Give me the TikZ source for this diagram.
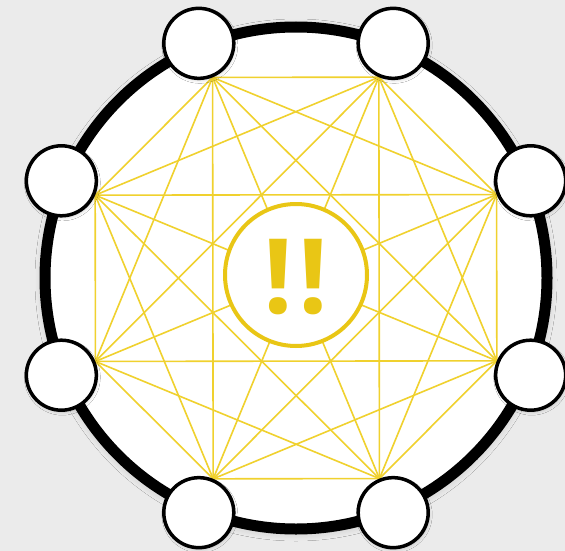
\documentclass[tikz,border=0pt]{standalone}
\usepackage{fontspec}
\usepackage{xcolor}
\usepackage{tikz}
\usetikzlibrary{shadows.blur}
\newfontfamily\bangfont{Open Sans}
\definecolor{bggray}{HTML}{EBEBEB}
\definecolor{warnyellow}{HTML}{E9C615}
\definecolor{edgeyellow}{HTML}{F0D12E}

\begin{document}
\begin{tikzpicture}[
    x=1pt, y=-1pt,
    ring/.style    = {circle, draw=black, line width=11pt, fill=white,
                      minimum size=502pt, inner sep=0pt,
                      blur shadow={shadow xshift=0pt, shadow yshift=-2pt,
                                   shadow blur steps=12,
                                   shadow blur radius=10pt, shadow opacity=22}},
    slot/.style    = {circle, minimum size=70pt, inner sep=0pt, outer sep=1.75pt},
    vertex/.style  = {circle, draw=black, line width=3.5pt, fill=white,
                      minimum size=70pt, inner sep=0pt,
                      blur shadow={shadow xshift=1pt, shadow yshift=-2pt,
                                   shadow blur radius=3pt, shadow opacity=18}},
    alert/.style   = {circle, draw=warnyellow, line width=4pt, fill=white,
                      minimum size=142pt, inner sep=0pt},
    bang/.style    = {font=\bangfont\bfseries\fontsize{104}{104}\selectfont,
                      text=warnyellow, inner sep=0pt},
    edge/.style    = {draw=edgeyellow, line width=1.6pt}
  ]
  % Background and outer ring
  \fill[bggray] (0,0) rectangle (565,551);
  \useasboundingbox (0,0) rectangle (565,551);
  \node[ring] (ring) at (296,278) {};

  % Places of the vertices on the ring
  \foreach \i in {1,...,8}
    \path (ring.center) ++({22.5+45*(\i-1)}:-254) node[slot] (v\i) {};

  % Complete graph between the vertices
  \foreach \i in {1,...,7}{
    \pgfmathtruncatemacro{\inext}{\i+1}
    \pgfmathsetmacro{\ai}{360-(22.5+45*(\i-1))}
    \foreach \j in {\inext,...,8}{
      \pgfmathsetmacro{\aj}{360-(22.5+45*(\j-1))}
      \draw[edge] (v\i.\ai) -- (v\j.\aj);
    }
  }

  % Vertices
  \foreach \i in {1,...,8}
    \node[vertex] (c\i) at (v\i.center) {};

  % Central warning sign
  \node[alert] (warn) at (296,275) {};
  \node[bang] (mark) at ([yshift=-2pt]warn.center) {!\hspace{6pt}!};
\end{tikzpicture}
\end{document}
